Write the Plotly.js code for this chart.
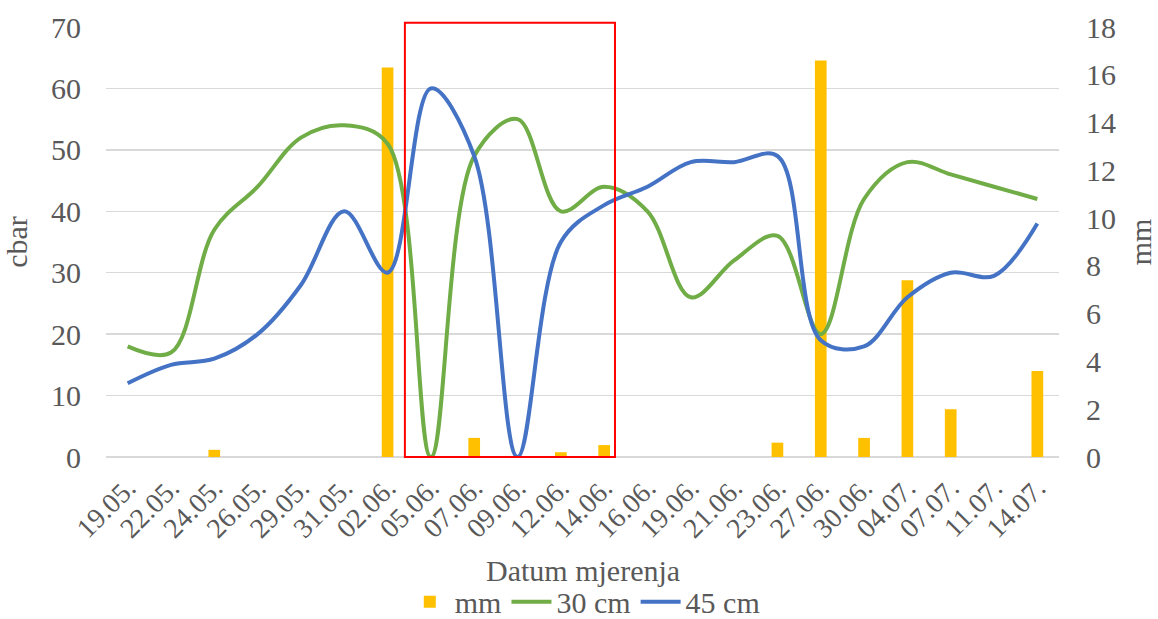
<!DOCTYPE html>
<html>
<head>
<meta charset="utf-8">
<script src="https://cdn.plot.ly/plotly-3.0.1.min.js"></script>
<style>html,body{margin:0;padding:0;background:#fff;}#chart{width:1158px;height:619px;}</style>
</head>
<body>
<div id="chart"></div>
<script>
const categories = ["19.05.","22.05.","24.05.","26.05.","29.05.","31.05.","02.06.","05.06.","07.06.","09.06.","12.06.","14.06.","16.06.","19.06.","21.06.","23.06.","27.06.","30.06.","04.07.","07.07.","11.07.","14.07."];
const rainMm  = [0, 0, 0.3, 0, 0, 0, 16.3, 0, 0.8, 0, 0.2, 0.5, 0, 0, 0, 0.6, 16.6, 0.8, 7.4, 2.0, 0, 3.6];
const cbar30  = [18, 17, 37, 44, 52, 54, 51, 0, 49, 55, 40, 44, 40, 26, 32, 36, 20, 42, 48, 46, 44, 42];
const cbar45  = [12, 15, 16, 20, 28, 40, 30, 60, 49, 0, 35, 41, 44, 48, 48, 49, 19, 18, 26, 30, 29.5, 38];
const leftTicks  = [0,10,20,30,40,50,60,70];
const rightTicks = [0,2,4,6,8,10,12,14,16,18];
const xTitle = "Datum mjerenja";

const FONT = "Liberation Serif, Times New Roman, serif";
const GREY = "#595959";

const traces = [
  {type:"bar", name:"mm", x:categories, y:rainMm, yaxis:"y", marker:{color:"#ffc000"}},
  {type:"scatter", mode:"lines", name:"30 cm", x:categories, y:cbar30, yaxis:"y2",
   line:{color:"#70ad47", width:4, shape:"spline", smoothing:1}},
  {type:"scatter", mode:"lines", name:"45 cm", x:categories, y:cbar45, yaxis:"y2",
   line:{color:"#4472c4", width:4, shape:"spline", smoothing:1}}
];

const layout = {
  width:1158, height:619,
  margin:{l:106, r:99, t:27, b:162},
  paper_bgcolor:"#fff", plot_bgcolor:"#fff",
  font:{family:FONT, color:GREY, size:30},
  bargap:0.73,
  showlegend:true,
  legend:{orientation:"h", x:0.505, xanchor:"center", xref:"container", y:0.028, yanchor:"middle", yref:"container",
          font:{family:FONT, size:30, color:GREY}, itemwidth:40, tracegroupgap:0},
  xaxis:{type:"category", categoryarray:categories, tickangle:-45, automargin:false,
         tickfont:{family:FONT, size:28, color:GREY}, showgrid:false, showline:false,
         ticks:"", ticklabelstandoff:8},
  yaxis:{side:"right", range:[0,18], tickvals:rightTicks, showgrid:false, zeroline:false, automargin:false,
         ticks:"", ticklabelstandoff:26, tickfont:{family:FONT, size:30, color:GREY},
         title:{text:"mm", font:{family:FONT, size:30, color:GREY}, standoff:14}},
  yaxis2:{side:"left", overlaying:"y", range:[0,70], tickvals:leftTicks, showgrid:true, automargin:false,
          gridcolor:"#d9d9d9", gridwidth:1.5, zeroline:true, zerolinecolor:"#d9d9d9", zerolinewidth:1.5,
          ticks:"", ticklabelstandoff:24, tickfont:{family:FONT, size:30, color:GREY},
          title:{text:"cbar", font:{family:FONT, size:30, color:GREY}, standoff:14}},
  annotations:[{text:xTitle, xref:"paper", yref:"paper", x:0.5, y:-0.265, xanchor:"center", yanchor:"middle",
                showarrow:false, font:{family:FONT, size:30, color:GREY}}],
  shapes:[{type:"rect", xref:"x", yref:"paper", x0:6.40, x1:11.25, y0:0, y1:1.01,
           line:{color:"#ff0000", width:2}, fillcolor:"rgba(0,0,0,0)", layer:"above"}]
};

Plotly.newPlot("chart", traces, layout, {displayModeBar:false, staticPlot:true});
</script>
</body>
</html>
